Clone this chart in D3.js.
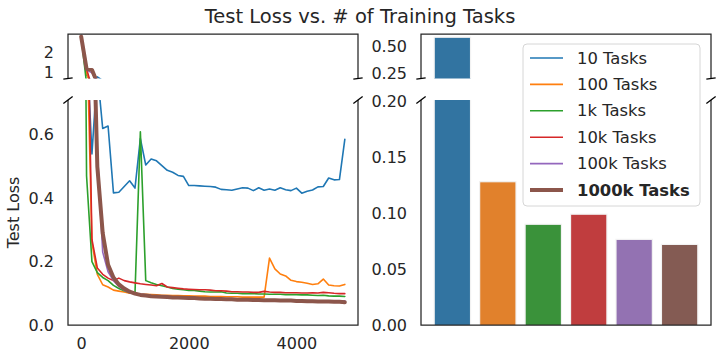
<!DOCTYPE html>
<html><head><meta charset="utf-8">
<script src="https://cdn.jsdelivr.net/npm/d3@7"></script>
<style>body{margin:0;background:#fff}svg{display:block;font-family:"DejaVu Sans",sans-serif}</style>
</head><body>
<svg id="chart" width="720" height="360"></svg>
<script>
const steps = [0,100,200,300,400,500,600,700,800,900,1000,1100,1200,1300,1400,1500,1600,1700,1800,1900,2000,2100,2200,2300,2400,2500,2600,2700,2800,2900,3000,3100,3200,3300,3400,3500,3600,3700,3800,3900,4000,4100,4200,4300,4400,4500,4600,4700,4800,4900];
const seriesNames = ["10 Tasks","100 Tasks","1k Tasks","10k Tasks","100k Tasks","1000k Tasks"];
const loss10 = [2.8,0.9,0.54,0.8,0.62,0.628,0.417,0.419,0.437,0.455,0.432,0.588,0.505,0.524,0.518,0.503,0.488,0.482,0.472,0.469,0.44,0.44,0.439,0.438,0.437,0.435,0.428,0.427,0.425,0.429,0.433,0.432,0.424,0.433,0.425,0.429,0.425,0.433,0.427,0.424,0.432,0.416,0.422,0.426,0.436,0.437,0.464,0.458,0.459,0.586];
const loss100 = [2.8,0.96,0.26,0.16,0.127,0.12,0.11,0.107,0.104,0.1,0.1,0.098,0.097,0.096,0.095,0.094,0.094,0.093,0.093,0.092,0.092,0.091,0.091,0.091,0.09,0.09,0.09,0.089,0.089,0.089,0.088,0.088,0.088,0.088,0.088,0.211,0.177,0.161,0.155,0.141,0.137,0.135,0.132,0.128,0.13,0.145,0.126,0.124,0.123,0.128];
const loss1k = [2.8,0.47,0.2,0.165,0.15,0.14,0.125,0.115,0.108,0.103,0.1,0.61,0.14,0.133,0.128,0.124,0.12,0.115,0.113,0.111,0.109,0.109,0.107,0.105,0.104,0.104,0.105,0.101,0.1,0.1,0.099,0.099,0.099,0.098,0.098,0.097,0.097,0.097,0.096,0.096,0.096,0.095,0.095,0.094,0.093,0.094,0.092,0.091,0.091,0.09];
const loss10k = [2.8,1.2,0.27,0.18,0.16,0.148,0.14,0.148,0.14,0.136,0.133,0.13,0.128,0.126,0.124,0.131,0.12,0.118,0.116,0.114,0.113,0.112,0.111,0.111,0.11,0.108,0.108,0.107,0.105,0.105,0.104,0.104,0.103,0.103,0.106,0.104,0.103,0.103,0.102,0.102,0.102,0.101,0.101,0.102,0.101,0.103,0.102,0.1,0.099,0.099];
const loss100k = [2.8,1.15,1.0,0.55,0.23,0.168,0.14,0.122,0.11,0.103,0.099,0.097,0.095,0.093,0.092,0.091,0.09,0.089,0.088,0.087,0.087,0.086,0.085,0.085,0.084,0.083,0.083,0.082,0.082,0.081,0.081,0.08,0.08,0.08,0.079,0.079,0.079,0.079,0.078,0.078,0.077,0.077,0.077,0.076,0.076,0.076,0.075,0.075,0.075,0.0765];
const loss1000k = [2.8,1.2,1.15,0.5,0.29,0.19,0.15,0.128,0.115,0.105,0.099,0.095,0.093,0.091,0.09,0.089,0.088,0.087,0.087,0.086,0.085,0.085,0.084,0.083,0.083,0.082,0.082,0.081,0.081,0.08,0.08,0.08,0.079,0.079,0.078,0.078,0.078,0.077,0.077,0.077,0.076,0.076,0.075,0.075,0.074,0.074,0.074,0.073,0.073,0.072];
const finalLoss = [0.588,0.128,0.090,0.099,0.0765,0.072];
const leftTopTicks = [1,2];
const leftBottomTicks = [0,0.2,0.4,0.6];
const xTicks = [0,2000,4000];
const rightTopTicks = [0.25,0.50];
const rightBottomTicks = [0,0.05,0.10,0.15,0.20];

const lineColors = ["#1f77b4","#ff7f0e","#2ca02c","#d62728","#9467bd","#8c564b"];
const barColors = ["#3274a1","#e1812c","#3a923a","#c03d3e","#9372b2","#845b53"];
const allSeries = [loss10,loss100,loss1k,loss10k,loss100k,loss1000k];
const ink = "#262626";

const svg = d3.select("#chart");
const L = {x0:68, x1:358}, R = {x0:421, x1:711};
const T = {y0:34, y1:78.5}, B = {y0:100, y1:325};
const FS = "16px";

const x = d3.scaleLinear().domain([-245,5145]).range([L.x0,L.x1]);
const yLT = d3.scaleLinear().domain([0.72,2.93]).range([T.y1,T.y0]);
const yLB = d3.scaleLinear().domain([0,0.71]).range([B.y1,B.y0]);
const yRT = d3.scaleLinear().domain([0.205,0.618]).range([T.y1,T.y0]);
const yRB = d3.scaleLinear().domain([0,0.201]).range([B.y1,B.y0]);
const xb = d3.scaleBand().domain(seriesNames).range([R.x0,R.x1]).paddingInner(0.2).paddingOuter(0.29);

const defs = svg.append("defs");
function clip(id, x0, x1, y0, y1){
  defs.append("clipPath").attr("id",id).append("rect").attr("x",x0).attr("y",y0).attr("width",x1-x0).attr("height",y1-y0);
}
clip("cLT",L.x0,L.x1,T.y0,T.y1); clip("cLB",L.x0,L.x1,B.y0,B.y1);
clip("cRT",R.x0,R.x1,T.y0,T.y1); clip("cRB",R.x0,R.x1,B.y0,B.y1);

// lines
function drawLines(yScale, clipId){
  const g = svg.append("g").attr("clip-path",`url(#${clipId})`);
  allSeries.forEach((vals,k)=>{
    const line = d3.line().x((d,i)=>x(steps[i])).y(d=>yScale(d));
    g.append("path").datum(vals).attr("d",line).attr("fill","none")
      .attr("stroke",lineColors[k]).attr("stroke-width",k===5?4:1.6)
      .attr("stroke-linejoin","round").attr("stroke-linecap","round");
  });
}
drawLines(yLT,"cLT"); drawLines(yLB,"cLB");

// bars
function drawBars(yScale, clipId){
  const g = svg.append("g").attr("clip-path",`url(#${clipId})`);
  g.selectAll("rect").data(finalLoss).join("rect")
    .attr("x",(d,i)=>xb(seriesNames[i])).attr("width",xb.bandwidth())
    .attr("y",d=>yScale(d)).attr("height",d=>Math.max(0,yScale.range()[0]-yScale(d)+2))
    .attr("fill",(d,i)=>barColors[i]).attr("stroke","#f2f2f2").attr("stroke-width",1.2);
}
drawBars(yRT,"cRT"); drawBars(yRB,"cRB");

// spines
function spines(P, top){
  const g = svg.append("g").attr("stroke",ink).attr("stroke-width",1.25).attr("fill","none");
  if(top){
    g.append("path").attr("d",`M${P.x0},${T.y1}V${T.y0}H${P.x1}V${T.y1}`);
  } else {
    g.append("path").attr("d",`M${P.x0},${B.y0}V${B.y1}H${P.x1}V${B.y0}`);
  }
}
spines(L,true); spines(L,false); spines(R,true); spines(R,false);

// break marks
function breaks(P){
  const d = 0.016, w = (P.x1-P.x0);
  const g = svg.append("g").attr("stroke","#000").attr("stroke-width",1.3);
  const hT = (T.y1-T.y0), hB = (B.y1-B.y0);
  [P.x0,P.x1].forEach(xx=>{
    g.append("line").attr("x1",xx-d*w).attr("x2",xx+d*w).attr("y1",T.y1+d*hT).attr("y2",T.y1-d*hT);
    g.append("line").attr("x1",xx-d*w).attr("x2",xx+d*w).attr("y1",B.y0+d*hB).attr("y2",B.y0-d*hB);
  });
}
breaks(L); breaks(R);

// axes
function yAxis(scale, ticks, fmt, xpos){
  const g = svg.append("g").attr("transform",`translate(${xpos},0)`)
    .call(d3.axisLeft(scale).tickValues(ticks).tickFormat(fmt).tickSize(0).tickPadding(14));
  g.select(".domain").remove();
  g.selectAll("text").attr("fill",ink).style("font-size",FS).style("font-family","DejaVu Sans");
}
yAxis(yLT,leftTopTicks,d3.format("d"),L.x0);
yAxis(yLB,leftBottomTicks,d3.format(".1f"),L.x0);
yAxis(yRT,rightTopTicks,d3.format(".2f"),R.x0);
yAxis(yRB,rightBottomTicks,d3.format(".2f"),R.x0);
const gx = svg.append("g").attr("transform",`translate(0,${B.y1})`)
  .call(d3.axisBottom(x).tickValues(xTicks).tickFormat(d3.format("d")).tickSize(0).tickPadding(12.5));
gx.select(".domain").remove();
gx.selectAll("text").attr("fill",ink).style("font-size",FS).style("font-family","DejaVu Sans");

// labels
svg.append("text").attr("x",360).attr("y",22.5).attr("text-anchor","middle")
  .attr("fill",ink).style("font-size","19.5px").text("Test Loss vs. # of Training Tasks");
svg.append("text").attr("transform",`translate(13,${(B.y0+B.y1)/2}) rotate(-90)`)
  .attr("text-anchor","middle").attr("dominant-baseline","central")
  .attr("fill",ink).style("font-size",FS).text("Test Loss");

// legend
const lg = svg.append("g");
lg.append("rect").attr("x",523).attr("y",44).attr("width",177).attr("height",162).attr("rx",4)
  .attr("fill","#fff").attr("fill-opacity",0.85).attr("stroke","#d6d6d6").attr("stroke-width",1);
seriesNames.forEach((n,k)=>{
  const yy = 58 + k*26.4;
  lg.append("line").attr("x1",530).attr("x2",563).attr("y1",yy).attr("y2",yy)
    .attr("stroke",lineColors[k]).attr("stroke-width",k===5?4:1.6);
  lg.append("text").attr("x",577).attr("y",yy).attr("dominant-baseline","central")
    .attr("fill",ink).style("font-size","16.4px").style("font-weight",k===5?"bold":"normal").text(n);
});
</script>
</body></html>
